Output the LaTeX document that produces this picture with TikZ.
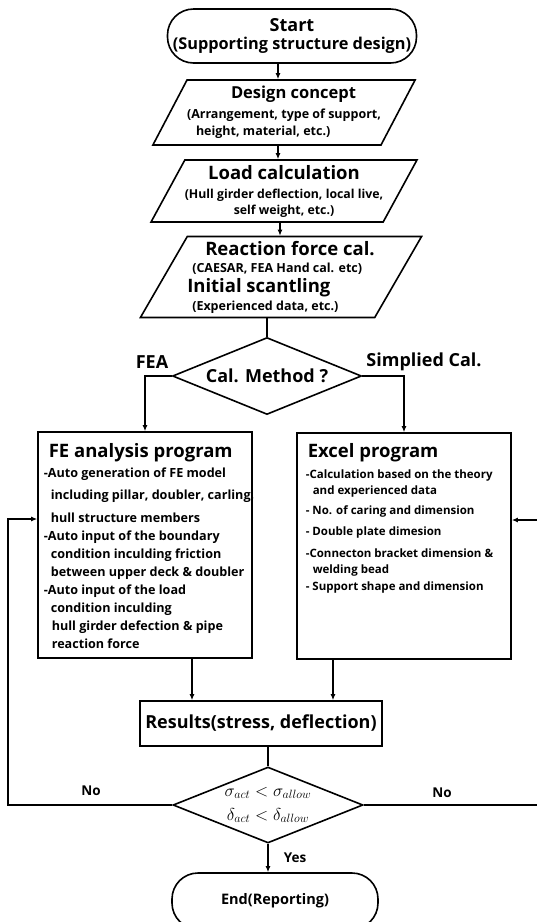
\documentclass[tikz,border=0pt]{standalone}
\usepackage{fontspec}
\setmainfont{Open Sans}
\usetikzlibrary{shapes.geometric,shapes.misc,arrows.meta}

\begin{document}
\begin{tikzpicture}[x=1pt, y=-1pt, line width=1.6pt,
    every node/.style={font=\bfseries},
    terminal/.style={draw, rounded corners=26pt, align=center, inner sep=0pt},
    io/.style={draw, trapezium, trapezium left angle=57, trapezium right angle=123,
               trapezium stretches=true, inner sep=0pt},
    decision/.style={draw, diamond, aspect=2.45, inner sep=0pt, align=center},
    prog/.style={draw, minimum width=214pt, minimum height=226pt},
    arr/.style={-{Latex[length=6pt,width=5pt]}},
    lbl/.style={font=\fontsize{18}{20}\selectfont\bfseries}
]
    \useasboundingbox (0,0) rectangle (537,922);

    % Start
    \node[terminal, minimum width=249pt, minimum height=54pt,
          font=\fontsize{16.3}{18}\selectfont\bfseries] (start) at (292,36)
        {{\fontsize{18}{20}\selectfont Start}\\(Supporting structure design)};

    % Input blocks
    \node[io, minimum width=262pt, minimum height=65pt, align=left,
          font=\fontsize{12.5}{17}\selectfont\bfseries] (concept) at (284,112.5)
        {\hspace*{44pt}{\fontsize{16.5}{18}\selectfont Design concept}\\[3pt]
         (Arrangement, type of support,\\
         \hspace*{9pt}height, material, etc.)};
    \node[io, minimum width=258pt, minimum height=62pt, align=center,
          font=\fontsize{12.3}{16}\selectfont\bfseries] (load) at (284,191)
        {{\fontsize{18.5}{20}\selectfont Load calculation}\\[3pt]
         (Hull girder deflection, local live,\\
         self weight, etc.)};
    \node[io, minimum width=272pt, minimum height=81pt, align=left,
          font=\fontsize{12.5}{17}\selectfont\bfseries] (react) at (281,277)
        {\hspace*{18pt}{\fontsize{18.5}{20}\selectfont Reaction force cal.}\\[0pt]
         \hspace*{5pt}(CAESAR, FEA Hand cal. etc)\\[3pt]
         {\fontsize{18.5}{20}\selectfont Initial scantling}\\[1pt]
         \hspace*{5pt}(Experienced data, etc.)};

    % Method choice
    \node[decision, minimum width=189pt, minimum height=77pt,
          font=\fontsize{18}{20}\selectfont\bfseries] (method) at (267,376)
        {Cal. Method ?};
    \node[lbl] (fea) at (152,362) {FEA};
    \node[lbl] (simple) at (424,362) {Simplied Cal.};

    % Programs
    \node[prog] (fe) at (145,545) {};
    \node[anchor=north west, align=left, inner sep=0pt,
          font=\fontsize{12.6}{18}\selectfont\bfseries] (fetext) at (43,443)
        {\hspace*{5pt}{\fontsize{18.5}{20}\selectfont FE analysis program}\\[2pt]
         -Auto generation of FE model\\[4pt]
         \hspace*{7pt}including pillar, doubler, carling,\\[5pt]
         \hspace*{7pt}hull structure members\\
         -Auto input of the boundary\\
         \hspace*{7pt}condition inculding friction\\
         \hspace*{7pt}between upper deck \& doubler\\
         -Auto input of the load\\
         \hspace*{7pt}condition inculding\\
         \hspace*{8pt}hull girder defection \& pipe\\
         \hspace*{8pt}reaction force};

    \node[prog] (excel) at (404,546) {};
    \node[anchor=north west, align=left, inner sep=0pt,
          font=\fontsize{11.5}{16}\selectfont\bfseries] (exceltext) at (305,443)
        {\hspace*{2pt}{\fontsize{18.5}{20}\selectfont Excel program}\\[5pt]
         -Calculation based on the theory\\
         \hspace*{7pt}and experienced data\\[4pt]
         - No. of caring and dimension\\[5pt]
         - Double plate dimesion\\[6pt]
         -Connecton bracket dimension \&\\
         \hspace*{7pt}welding bead\\[1pt]
         - Support shape and dimension};

    % Results and check
    \node[draw, minimum width=242pt, minimum height=45pt,
          font=\fontsize{18}{20}\selectfont\bfseries] (results) at (261,723.5)
        {Results(stress, deflection)};
    \node[decision, minimum width=190pt, minimum height=76pt,
          font=\fontsize{17}{24}\selectfont] (check) at (268,805)
        {$\sigma_{act}<\sigma_{allow}$\\$\delta_{act}<\delta_{allow}$};
    \node[terminal, minimum width=206pt, minimum height=56pt,
          font=\fontsize{14.5}{16}\selectfont\bfseries] (finish) at (275,901) {End(Reporting)};

    \node[lbl, font=\fontsize{13.5}{16}\selectfont\bfseries] (noleft) at (91,791) {No};
    \node[lbl, font=\fontsize{13.5}{16}\selectfont\bfseries] (noright) at (442,793) {No};
    \node[lbl, font=\fontsize{13.5}{16}\selectfont\bfseries] (yes) at (295,858) {Yes};

    % Connectors
    \coordinate (spine) at (278,0);
    \draw[arr] (start.south -| spine) -- (concept.north -| spine);
    \draw[arr] (concept.south -| spine) -- (load.north -| spine);
    \draw[arr] ([xshift=2pt]load.south -| spine) -- ([xshift=2pt]react.north -| spine);
    \draw (react.south -| method.north) -- (method.north);
    \draw[arr] (method.west) -| (fe.north);
    \draw[arr] (method.east) -| (excel.north);
    \draw[arr] ([xshift=-69pt]results.north |- fe.south) -- ([xshift=-69pt]results.north);
    \draw[arr] ([xshift=72pt]results.north |- excel.south) -- ([xshift=72pt]results.north);
    \draw (check.north |- results.south) -- (check.north);
    \draw[arr] (check.south) -- (check.south |- finish.north);

    % Loops back
    \coordinate (loopL) at (8,519);
    \coordinate (loopR) at (550,520);
    \draw[arr] (check.west) -| (loopL) -- (fe.west |- loopL);
    \draw[arr] (check.east) -| (loopR) -- (excel.east |- loopR);
\end{tikzpicture}
\end{document}
